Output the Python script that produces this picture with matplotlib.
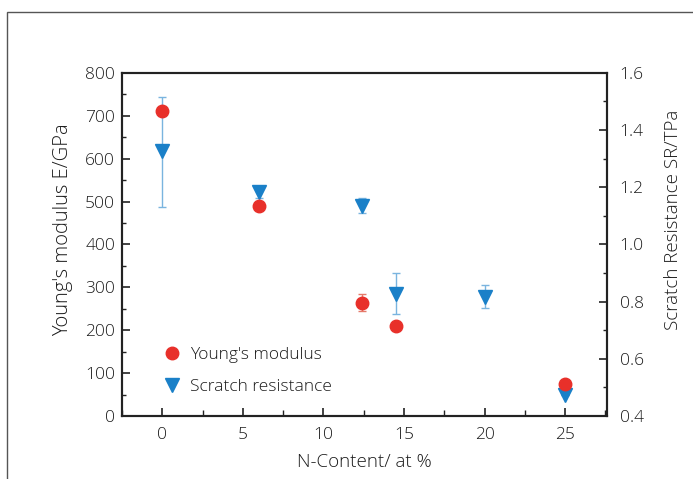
import matplotlib.pyplot as plt
from matplotlib.patches import Rectangle
from matplotlib.ticker import MultipleLocator

# N content (at %) and measured values
n_young = [0, 6, 12.4, 14.5, 25]
young = [710, 490, 264, 210, 74]
young_err = [0, 0, 20, 0, 0]

n_scratch = [0, 6, 12.4, 14.5, 20, 25]
scratch = [1.325, 1.182, 1.134, 0.827, 0.816, 0.474]
scratch_err_lo = [0.195, 0.02, 0.023, 0.071, 0.037, 0.0]
scratch_err_hi = [0.192, 0.021, 0.029, 0.072, 0.041, 0.0]

red = '#e8302a'
blue = '#1a80c8'
light_blue = '#7ab4df'
txt = '#1c1c1c'

plt.rcParams['font.family'] = ['Open Sans', 'DejaVu Sans']
plt.rcParams['font.weight'] = 'light'
plt.rcParams['axes.labelweight'] = 'light'
plt.rcParams['font.size'] = 12.5
plt.rcParams['text.color'] = txt
plt.rcParams['axes.labelcolor'] = txt
plt.rcParams['xtick.color'] = '#222222'
plt.rcParams['ytick.color'] = '#222222'
plt.rcParams['xtick.labelcolor'] = txt
plt.rcParams['ytick.labelcolor'] = txt

fig = plt.figure(figsize=(6.93, 4.79), dpi=100)
# outer frame line
fig.patches.append(Rectangle((7 / 693, -0.1), 1.2, (479 - 12) / 479 + 0.1,
                             transform=fig.transFigure, fill=False,
                             edgecolor='#555555', linewidth=1.0))

ax = fig.add_axes([0.176, 0.1315, 0.7, 0.7165])
ax2 = ax.twinx()

ax2.errorbar(n_scratch, scratch, yerr=[scratch_err_lo, scratch_err_hi], fmt='none',
             ecolor=light_blue, elinewidth=1.0, capsize=3, capthick=1.0, zorder=2)
ax2.plot(n_scratch, scratch, 'v', color=blue, markersize=10.5, zorder=3,
         label='Scratch resistance')

ax.errorbar(n_young, young, yerr=young_err, fmt='none', ecolor='#e57a6a',
            elinewidth=1.0, capsize=3, capthick=1.0, zorder=2)
ax.plot(n_young, young, 'o', color=red, markersize=9, zorder=3,
        label="Young's modulus")

ax.set_zorder(ax2.get_zorder() + 1)
ax.patch.set_visible(False)

ax.set_xlim(-2.5, 27.6)
ax.set_ylim(0, 800)
ax2.set_ylim(0.4, 1.6)

ax.xaxis.set_major_locator(MultipleLocator(5))
ax.xaxis.set_minor_locator(MultipleLocator(2.5))
ax.yaxis.set_major_locator(MultipleLocator(100))
ax.yaxis.set_minor_locator(MultipleLocator(50))
ax2.yaxis.set_major_locator(MultipleLocator(0.2))
ax2.yaxis.set_minor_locator(MultipleLocator(0.1))
ax2.yaxis.set_major_formatter(lambda v, p: f'{v:.1f}')

for a in (ax, ax2):
    a.tick_params(which='major', direction='in', length=6, width=1.2)
    a.tick_params(which='minor', direction='in', length=3, width=1.0)
    for s in a.spines.values():
        s.set_linewidth(1.5)
        s.set_color('#222222')
ax.tick_params(axis='x', which='minor', length=4)
ax.tick_params(axis='x', pad=8)
ax.tick_params(axis='y', pad=5)
ax2.tick_params(axis='y', pad=9)

ax.set_xlabel('N-Content/ at %', labelpad=7, fontsize=13.5)
ax.set_ylabel("Young's modulus E/GPa", fontsize=14.5)
ax2.set_ylabel('Scratch Resistance SR/TPa', fontsize=13.5)
ax.yaxis.set_label_coords(-0.101, 0.542)
ax2.yaxis.set_label_coords(1.117, 0.571)

h1, l1 = ax.get_legend_handles_labels()
h2, l2 = ax2.get_legend_handles_labels()
ax.legend(h1 + h2, l1 + l2, loc='lower left', bbox_to_anchor=(0.05, 0.015),
          frameon=False, handletextpad=0.4, labelspacing=0.95, handlelength=1.2,
          fontsize=12.5)

fig.savefig('out.png', dpi=100)
